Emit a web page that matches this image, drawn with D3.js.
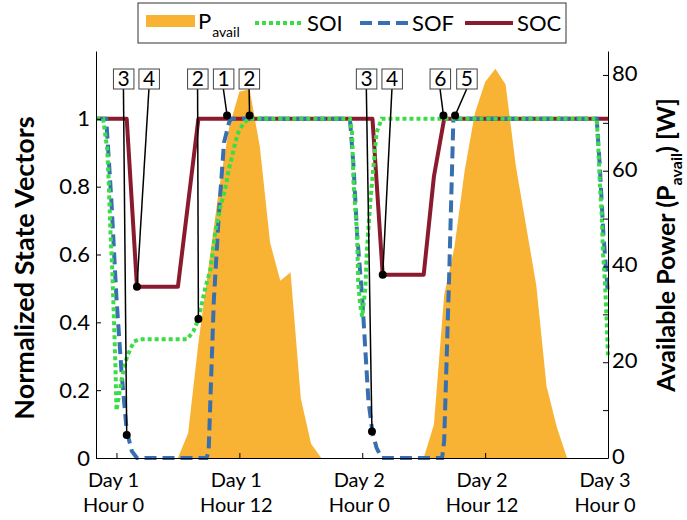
<!DOCTYPE html>
<html>
<head>
<meta charset="utf-8">
<script src="https://cdn.jsdelivr.net/npm/d3@7"></script>
<style>
  body { margin: 0; background: #fff; }
  svg { font-family: Lato, "Open Sans", sans-serif; }
</style>
</head>
<body>
<svg id="chart" width="687" height="520"></svg>
<script>
// hours since Day 1 Hour 0
var powerHours  = [6, 7, 8, 9, 10, 11, 12, 13, 14, 15, 16, 17, 18, 19, 20,
                   30, 31, 32, 33, 34, 35, 36, 37, 38, 39, 40, 41, 42, 43, 44];
var powerValues = [0, 5.2, 24, 40, 56, 69, 76.5, 77, 65, 45, 37, 38.8, 12.5, 3, 0,
                   0, 7, 34, 44, 60, 72, 78.5, 81.3, 78, 61, 48.5, 36, 15, 6.5, 0];

var socHours  = [-2, 1, 2, 6, 8, 25, 26, 30, 31, 32, 48];
var socValues = [1, 1, 0.505, 0.505, 1, 1, 0.54, 0.54, 0.83, 1, 1];

var sofHours  = [-2, -1, -0.5, 0, 0.5, 1, 1.5, 2, 8.8, 9, 9.5, 10, 10.5, 11, 11.2,
                 22.8, 23.15, 23.5, 24, 24.3, 24.6, 25, 25.4, 25.9, 31.8, 32, 32.5, 32.9,
                 46.9, 47.2, 47.55, 48];
var sofValues = [1, 1, 0.76, 0.47, 0.25, 0.08, 0.02, 0, 0, 0.02, 0.46, 0.72, 0.93, 0.99, 1,
                 1, 0.86, 0.66, 0.47, 0.32, 0.17, 0.075, 0.03, 0, 0, 0.05, 0.55, 1,
                 1, 0.86, 0.66, 0.48];

var soiHours  = [-2, -1.3, -0.9, -0.75, -0.58, -0.42, -0.26, -0.1, 0, 0.55, 1.04, 1.7, 2.2,
                 6.9, 7.5, 8, 8.35, 8.7, 9.17, 9.66, 10.15, 10.6, 10.96, 11.3, 11.6, 11.9, 12.4, 12.9,
                 22.8, 23, 23.15, 23.5, 23.6, 23.8, 24, 24.3, 24.45, 24.8, 25.1, 25.4, 25.9,
                 46.9, 47.06, 47.2, 47.4, 47.5, 47.7, 47.85, 48];
var soiValues = [1, 1, 0.91, 0.81, 0.66, 0.56, 0.42, 0.27, 0.14, 0.24, 0.30, 0.343, 0.35,
                 0.35, 0.373, 0.41, 0.457, 0.505, 0.555, 0.67, 0.74, 0.79, 0.85, 0.89, 0.93, 0.96, 0.987, 1,
                 1, 0.96, 0.81, 0.66, 0.52, 0.45, 0.417, 0.5, 0.61, 0.76, 0.86, 0.96, 1,
                 1, 0.91, 0.81, 0.71, 0.61, 0.52, 0.42, 0.3];

// numbered callouts
var annoLabels = ['3', '4', '2', '1', '2', '3', '4', '6', '5'];
var annoBoxHours = [0.68, 3.17, 7.92, 10.44, 12.95, 24.4, 26.9, 31.6, 34.2];
var annoHours  = [1.0, 2.0, 8.0, 10.8, 13.0, 24.95, 26.0, 31.93, 33.07];
var annoValues = [0.068, 0.505, 0.41, 1.01, 1.01, 0.078, 0.54, 1.01, 1.01];

var xTickHours = [0, 12, 24, 36, 48];
var xTickDay   = ['Day 1', 'Day 1', 'Day 2', 'Day 2', 'Day 3'];
var xTickHour  = ['Hour 0', 'Hour 12', 'Hour 0', 'Hour 12', 'Hour 0'];

var leftTicks  = [0, 0.2, 0.4, 0.6, 0.8, 1];
var rightTicks = [0, 10, 20, 30, 40, 50, 60, 70, 80];

var colPower = '#f8b334', colSoi = '#3bdc48', colSof = '#376fb0', colSoc = '#8a1a2d';

function zip(a, b) {
	var out = [];
	for (var i = 0; i < a.length; i++) out.push([a[i], b[i]]);
	return out;
}

var svg = d3.select('#chart');
var plotL = 96, plotR = 608, plotT = 51, plotB = 458;

var x  = d3.scaleLinear().domain([-2, 48]).range([plotL, plotR]);
var yL = d3.scaleLinear().domain([0, 1.2]).range([plotB, plotT]);
var yR = d3.scaleLinear().domain([0, 85]).range([plotB, plotT]);

// power area
var area = d3.area().x(d => x(d[0])).y0(yR(0)).y1(d => yR(d[1]));
svg.append('path')
	.attr('d', area(zip(powerHours, powerValues)))
	.attr('fill', colPower);

var line = d3.line().x(d => x(d[0])).y(d => yL(d[1]));

svg.append('path').attr('d', line(zip(socHours, socValues)))
	.attr('fill', 'none').attr('stroke', colSoc).attr('stroke-width', 4).attr('stroke-linejoin', 'round');
svg.append('path').attr('d', line(zip(sofHours, sofValues)))
	.attr('fill', 'none').attr('stroke', colSof).attr('stroke-width', 4).attr('stroke-dasharray', '12,6');
svg.append('path').attr('d', line(zip(soiHours, soiValues)))
	.attr('fill', 'none').attr('stroke', colSoi).attr('stroke-width', 4).attr('stroke-dasharray', '4,3');

// axes
var axL = d3.axisLeft(yL).tickValues(leftTicks).tickSizeInner(-5).tickSizeOuter(0).tickPadding(6)
	.tickFormat(d => String(d));
var gL = svg.append('g').attr('transform', 'translate(' + plotL + ',0)').call(axL);

var axR = d3.axisRight(yR).tickValues(rightTicks).tickSizeInner(-5).tickSizeOuter(0).tickPadding(4)
	.tickFormat(d => d % 20 === 0 ? String(d) : '');
var gR = svg.append('g').attr('transform', 'translate(' + plotR + ',0)').call(axR);

var axB = d3.axisBottom(x).tickValues(xTickHours).tickSizeInner(-5).tickSizeOuter(0).tickFormat('');
var gB = svg.append('g').attr('transform', 'translate(0,' + plotB + ')').call(axB);

[gL, gR].forEach(g => {
	g.selectAll('text').attr('font-size', 22).attr('fill', '#000').attr('font-family', 'Lato, sans-serif');
});
[gL, gR, gB].forEach(g => {
	g.selectAll('path, line').attr('stroke', '#000');
});
gR.selectAll('text').attr('dy', '0.25em');

var xl = svg.append('g').attr('font-size', 20).attr('text-anchor', 'middle');
xTickHours.forEach((h, i) => {
	var t = xl.append('text').attr('x', x(h) - 3).attr('y', 487);
	t.append('tspan').attr('x', x(h) - 3).text(xTickDay[i]);
	t.append('tspan').attr('x', x(h) - 3).attr('dy', 25).text(xTickHour[i]);
});

// axis titles
svg.append('text')
	.attr('transform', 'translate(34,268) rotate(-90)')
	.attr('text-anchor', 'middle').attr('font-size', 27).attr('font-weight', 'bold')
	.text('Normalized State Vectors');

var rt = svg.append('text')
	.attr('transform', 'translate(675,245) rotate(-90)')
	.attr('text-anchor', 'middle').attr('font-size', 25).attr('font-weight', 'bold');
rt.append('tspan').text('Available Power (P');
rt.append('tspan').attr('font-size', 16).attr('dy', 7).text('avail');
rt.append('tspan').attr('dy', -7).text(') [W]');

// callouts
var ann = svg.append('g');
annoLabels.forEach((lab, i) => {
	var bx = x(annoBoxHours[i]);
	var px = x(annoHours[i]), py = yL(annoValues[i]);
	ann.append('line').attr('x1', bx).attr('y1', 89).attr('x2', px).attr('y2', py)
		.attr('stroke', '#000').attr('stroke-width', 1.5);
	ann.append('circle').attr('cx', px).attr('cy', py).attr('r', 4).attr('fill', '#000');
	ann.append('rect').attr('x', bx - 10).attr('y', 69).attr('width', 20.5).attr('height', 20)
		.attr('fill', '#fff').attr('stroke', '#444').attr('stroke-width', 1);
	ann.append('text').attr('x', bx + 0.25).attr('y', 86).attr('text-anchor', 'middle')
		.attr('font-size', 21).text(lab);
});

// legend
var lg = svg.append('g');
lg.append('rect').attr('x', 138).attr('y', 3).attr('width', 428).attr('height', 40)
	.attr('fill', '#fff').attr('stroke', '#333').attr('stroke-width', 1);
lg.append('rect').attr('x', 146).attr('y', 15).attr('width', 49).attr('height', 12).attr('fill', colPower);
var pt = lg.append('text').attr('x', 198).attr('y', 29).attr('font-size', 22);
pt.append('tspan').text('P');
pt.append('tspan').attr('font-size', 14).attr('dy', 8).attr('dx', 1).text('avail');

var legItems = [[255, colSoi, '4,3', 'SOI'], [360, colSof, '12,6', 'SOF'], [465, colSoc, null, 'SOC']];
legItems.forEach(it => {
	lg.append('line').attr('x1', it[0]).attr('x2', it[0] + 48).attr('y1', 23).attr('y2', 23)
		.attr('stroke', it[1]).attr('stroke-width', 4).attr('stroke-dasharray', it[2]);
	lg.append('text').attr('x', it[0] + 52).attr('y', 31).attr('font-size', 22).text(it[3]);
});
</script>
</body>
</html>
